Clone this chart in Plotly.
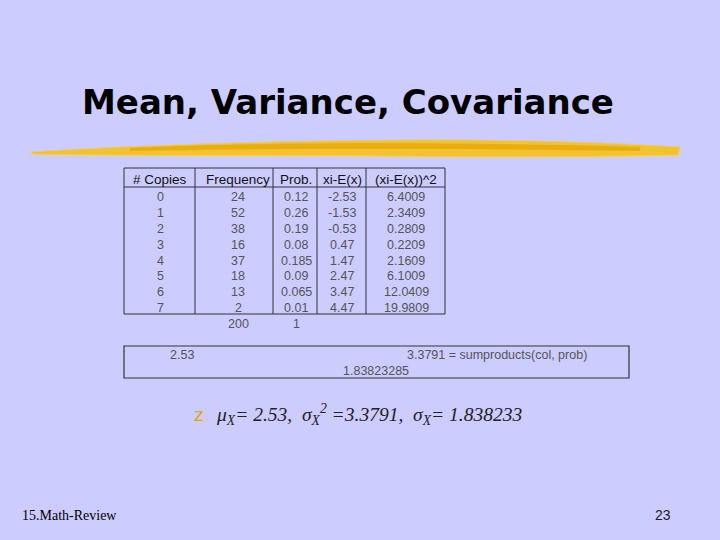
import plotly.graph_objects as go

headers = ["# Copies", "Frequency", "Prob.", "xi-E(x)", "(xi-E(x))^2"]
copies = ["0", "1", "2", "3", "4", "5", "6", "7"]
frequency = ["24", "52", "38", "16", "37", "18", "13", "2"]
prob = ["0.12", "0.26", "0.19", "0.08", "0.185", "0.09", "0.065", "0.01"]
dev = ["-2.53", "-1.53", "-0.53", "0.47", "1.47", "2.47", "3.47", "4.47"]
dev_sq = ["6.4009", "2.3409", "0.2809", "0.2209", "2.1609", "6.1009", "12.0409", "19.9809"]
totals = ["", "200", "1", "", ""]
mean_txt = "2.53"
var_txt = "3.3791 = sumproducts(col, prob)"
sd_txt = "1.83823285"

BG = "#ccccff"
fig = go.Figure()
fig.add_trace(go.Scatter(x=[0, 720], y=[0, 540], mode="markers", marker=dict(opacity=0), hoverinfo="skip"))

shapes = []
ann = []
def line(x0, y0, x1, y1, w=1, c="#333333"):
    shapes.append(dict(type="line", x0=x0, y0=y0, x1=x1, y1=y1, line=dict(color=c, width=w)))

def text(x, y, s, size=12.5, color="#555555", family="Liberation Sans", xanchor="center", **kw):
    ann.append(dict(x=x, y=y, text=s, showarrow=False, xanchor=xanchor, yanchor="middle",
                    font=dict(size=size, color=color, family=family), **kw))

# brush stroke
shapes.append(dict(type="path",
    path="M 30 152 C 120 146, 250 141, 400 140 C 520 139, 620 143, 680 147 L 678 155 C 600 157, 480 157, 380 156 C 250 155, 130 156, 34 154 Z",
    fillcolor="#f2c230", line=dict(color="#f6d050", width=1)))
shapes.append(dict(type="path",
    path="M 130 148 C 260 142, 450 142, 640 147 L 640 151 C 450 148, 260 148, 130 151 Z",
    fillcolor="#e8ad10", line=dict(width=0)))

text(348, 102, "<b>Mean, Variance, Covariance</b>", size=34, color="#000000", family="DejaVu Sans")

# table
cols = [124, 195, 273, 317, 366, 445]
top, hb, bot = 168, 187, 314
centers = [160, 238, 296, 342, 406]
line(cols[0], top, cols[-1], top)
line(cols[0], hb, cols[-1], hb)
line(cols[0], bot, cols[-1], bot)
for cx in cols:
    line(cx, top, cx, bot)
for cx, h in zip(centers, headers):
    text(cx, 179, h, size=13.5, color="#111111")
for i in range(8):
    y = 197.3 + 15.8 * i
    for cx, col in zip(centers, [copies, frequency, prob, dev, dev_sq]):
        text(cx, y, col[i])
for cx, t in zip(centers, totals):
    if t:
        text(cx, 324, t)

shapes.append(dict(type="rect", x0=124, y0=346, x1=629, y1=378, line=dict(color="#333333", width=1.2)))
text(182, 355, mean_txt)
text(405, 355, var_txt, xanchor="left")
text(376, 371, sd_txt)

text(198, 414, "z", size=18, color="#e0a800", family="DejaVu Sans")
text(214, 414, "<i>μ<sub>X</sub>= 2.53,  σ<sub>X</sub><sup>2</sup> =3.3791,  σ<sub>X</sub>= 1.838233</i>",
     size=19.5, color="#222222", family="Liberation Serif", xanchor="left")

text(20, 515, "15.Math-Review", size=14, color="#000000", family="Liberation Serif", xanchor="left")
text(673, 515, "23", size=14, color="#222222", xanchor="right")

fig.update_layout(width=720, height=540, margin=dict(l=0, r=0, t=0, b=0),
                  paper_bgcolor=BG, plot_bgcolor=BG, showlegend=False,
                  shapes=shapes, annotations=ann,
                  xaxis=dict(range=[0, 720], visible=False, fixedrange=True),
                  yaxis=dict(range=[540, 0], visible=False, fixedrange=True))
fig.write_html("out.html", config={"displayModeBar": False},
               post_script="document.body.style.margin='0';document.body.style.background='%s';" % BG)
